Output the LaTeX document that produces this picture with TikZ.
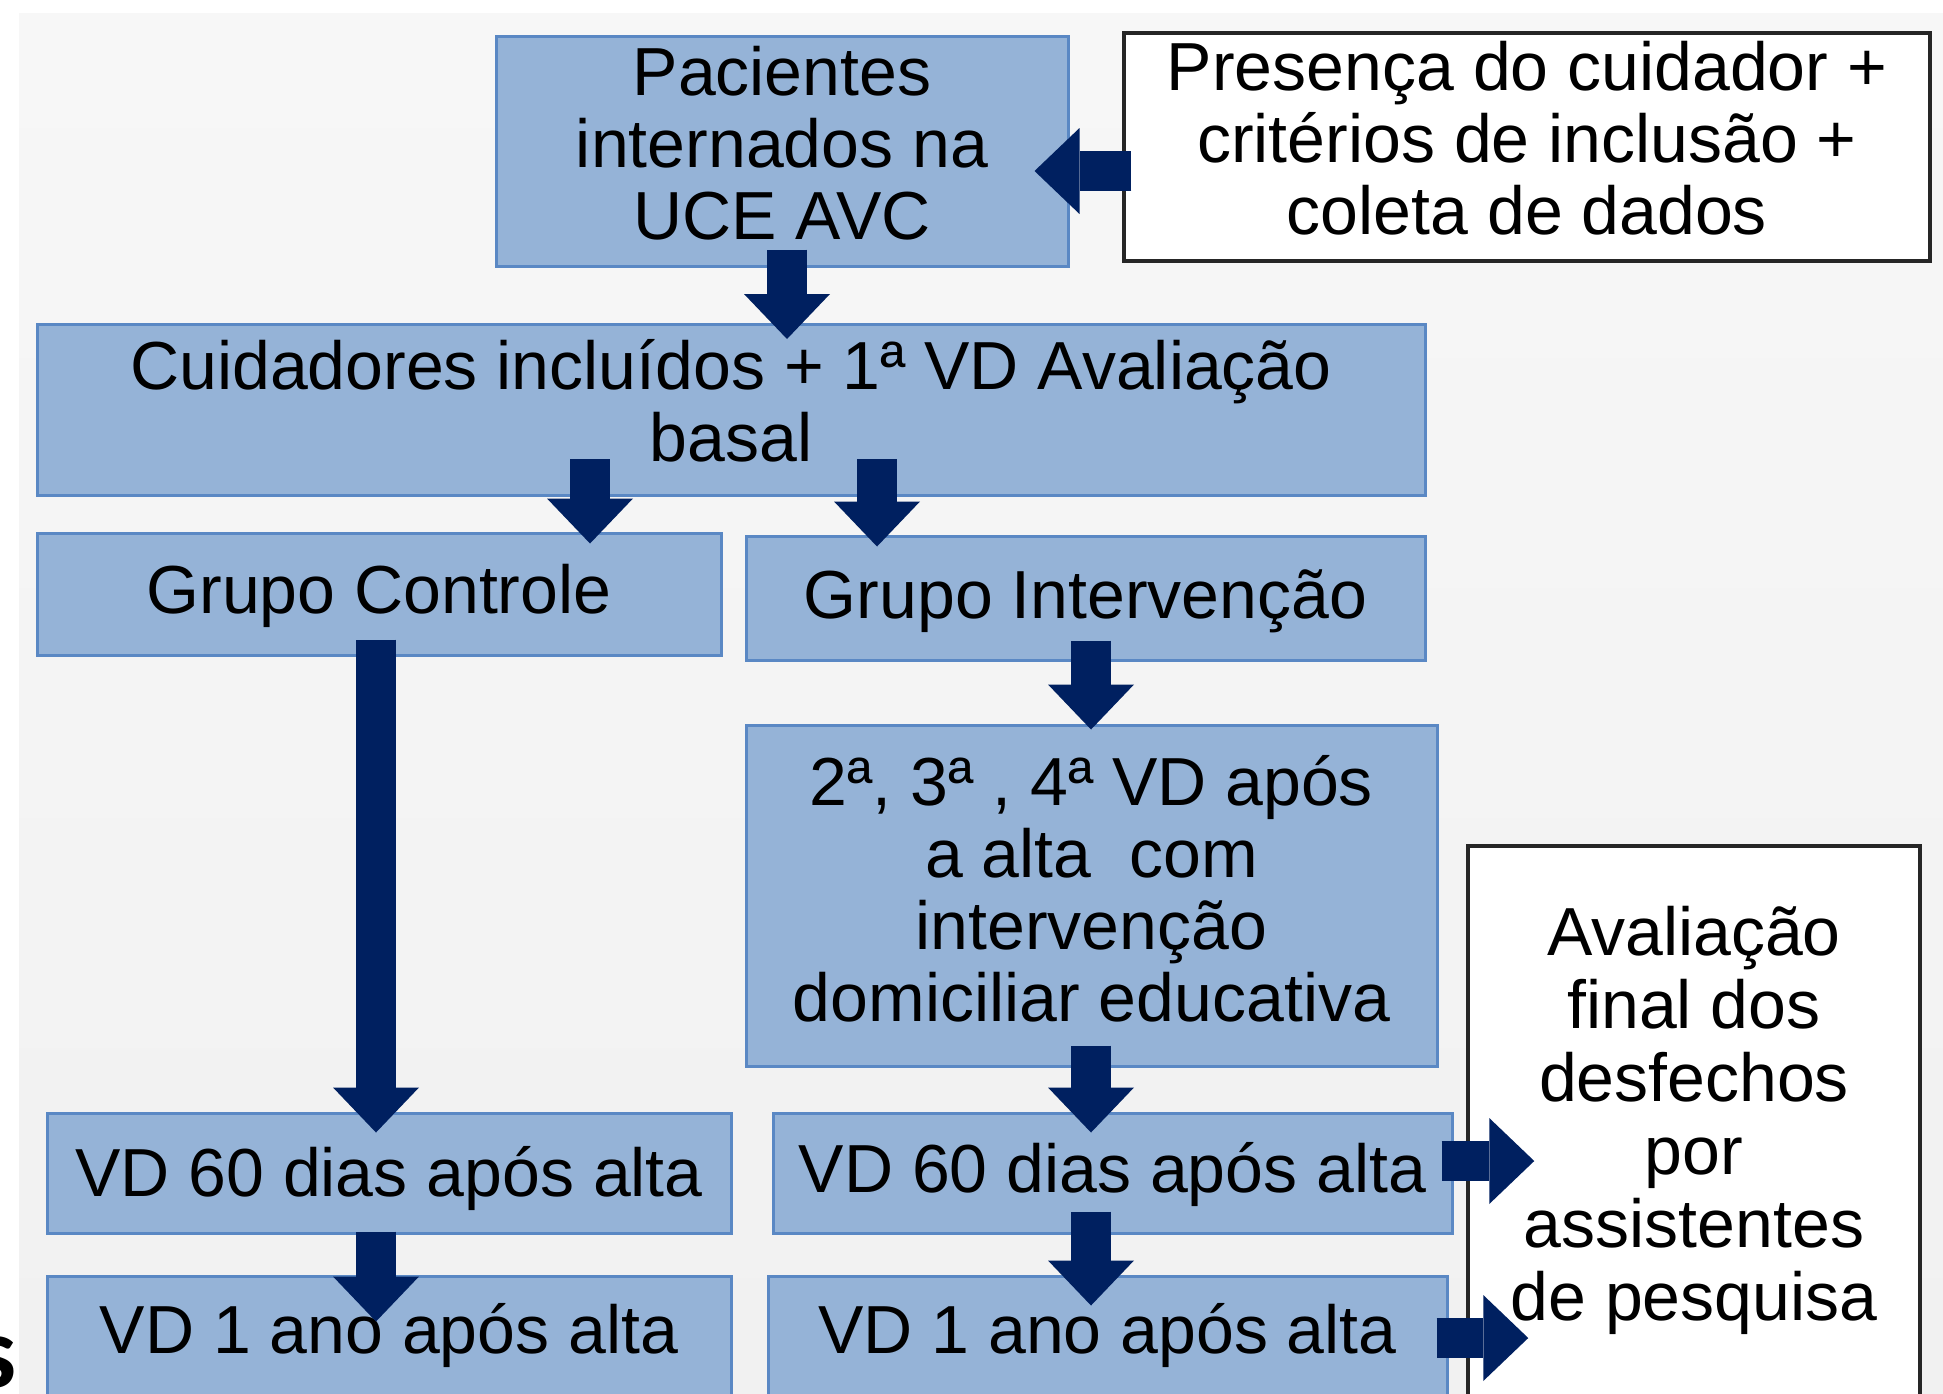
\documentclass[tikz,border=0pt]{standalone}
\usepackage{fontspec}
\setmainfont{Liberation Sans}
\newfontfamily\sfontx{Carlito}
\usetikzlibrary{arrows.meta,calc}
\definecolor{boxfill}{HTML}{95B3D7}
\definecolor{boxline}{HTML}{5A88C4}
\definecolor{arrowblue}{HTML}{002060}
\definecolor{bgtop}{HTML}{F7F7F7}
\definecolor{bgbot}{HTML}{F1F1F1}
\begin{document}
\begin{tikzpicture}[x=1pt,y=-1pt,
  bluebox/.style={draw=boxline, line width=3pt, fill=boxfill, inner sep=0pt},
  whitebox/.style={draw=black!85, line width=3.5pt, fill=white, inner sep=0pt},
  txt/.style={align=center, inner sep=0pt, font=\fontsize{68}{72}\selectfont},
  barrow/.style={arrowblue, line width=40pt,
    -{Triangle[width=86pt,length=45pt,line width=0pt]}}]
\clip (0,0) rectangle (1943,1393);
\fill[white] (0,0) rectangle (1943,1393);
\shade[top color=bgtop, bottom color=bgbot] (19,13) rectangle (1943,1393);

% boxes
\node[bluebox, minimum width=572pt, minimum height=230pt] (pac) at (782,151) {};
\node[whitebox, minimum width=806pt, minimum height=228pt] (pre) at (1527,147) {};
\node[bluebox, minimum width=1388pt, minimum height=171pt] (cui) at (731,410) {};
\node[bluebox, minimum width=684pt, minimum height=122pt] (ctl) at (379,594) {};
\node[bluebox, minimum width=679pt, minimum height=124pt] (int) at (1085.5,598) {};
\node[bluebox, minimum width=691pt, minimum height=341pt] (edu) at (1091.5,895.5) {};
\node[bluebox, minimum width=684pt, minimum height=120pt] (v60l) at (389,1173) {};
\node[bluebox, minimum width=679pt, minimum height=120pt] (v60r) at (1112.5,1173) {};
\node[bluebox, minimum width=684pt, minimum height=124pt] (v1l) at (389,1338) {};
\node[bluebox, minimum width=679pt, minimum height=124pt] (v1r) at (1107.5,1338) {};
\node[whitebox, minimum width=452pt, minimum height=584pt] (ava) at (1694,1138) {};

% texts
\node[txt] (pact) at ($(pac.center)+(0,-8)$) {Pacientes\\internados na\\UCE AVC};
\node[txt] (pret) at ($(pre.center)+(0,-9)$) {Presença do cuidador +\\critérios de inclusão +\\coleta de dados};
\node[txt] (cuit) at ($(cui.center)+(0,-9)$) {Cuidadores incluídos + 1ª VD Avaliação\\basal};
\node[txt] (ctlt) at ($(ctl.center)+(0,2)$) {Grupo Controle};
\node[txt] (intt) at ($(int.center)+(0,3)$) {Grupo Intervenção};
\node[txt] (edut) at ($(edu.center)+(0,-7)$) {2ª, 3ª , 4ª VD após\\a alta\ \ com\\intervenção\\domiciliar educativa};
\node[txt] (v60lt) at ($(v60l.center)+(0,6)$) {VD 60 dias após alta};
\node[txt] (v60rt) at ($(v60r.center)+(0,2)$) {VD 60 dias após alta};
\node[txt] (v1lt) at ($(v1l.center)+(0,-3)$) {VD 1 ano após alta};
\node[txt] (v1rt) at ($(v1r.center)+(0,-3)$) {VD 1 ano após alta};
\node[txt, font=\fontsize{68}{73}\selectfont] (avat) at (1694,1120)
  {Avaliação\\final dos\\desfechos\\por\\assistentes\\de pesquisa};

% stray glyph at the left edge
\node[anchor=base east, inner sep=0pt, font=\sfontx\bfseries\fontsize{103}{103}\selectfont]
  (s) at (17,1387) {s};

% x positions of the arrows
\coordinate (xa) at (787,0);
\coordinate (xb) at (590,0);
\coordinate (xc) at (877,0);
\coordinate (xd) at (1091,0);
\coordinate (xe) at (376,0);
\coordinate (ya) at (0,171);
\coordinate (yb) at (0,1161);
\coordinate (yc) at (0,1338);

% arrows
\draw[barrow] ($(pre.west|-ya)+(9,0)$) -- ($(pac.east|-ya)+(-35,0)$);
\draw[barrow] ($(pac.south-|xa)+(0,-18)$) -- ($(cui.north-|xa)+(0,16)$);
\draw[barrow] ($(cui.south-|xb)+(0,-38)$) -- ($(ctl.north-|xb)+(0,12)$);
\draw[barrow] ($(cui.south-|xc)+(0,-38)$) -- ($(int.north-|xc)+(0,12)$);
\draw[barrow] ($(int.south-|xd)+(0,-21)$) -- ($(edu.north-|xd)+(0,6)$);
\draw[barrow] ($(ctl.south-|xe)+(0,-17)$) -- ($(v60l.north-|xe)+(0,21)$);
\draw[barrow] ($(edu.south-|xd)+(0,-22)$) -- ($(v60r.north-|xd)+(0,21)$);
\draw[barrow] ($(v60l.south-|xe)+(0,-3)$) -- ($(v1l.north-|xe)+(0,47)$);
\draw[barrow] ($(v60r.south-|xd)+(0,-23)$) -- ($(v1r.north-|xd)+(0,31)$);
\draw[barrow] ($(v60r.east|-yb)+(-12,0)$) -- ($(ava.west|-yb)+(68,0)$);
\draw[barrow] ($(v1r.east|-yc)+(-12,0)$) -- ($(ava.west|-yc)+(62,0)$);
\end{tikzpicture}
\end{document}
